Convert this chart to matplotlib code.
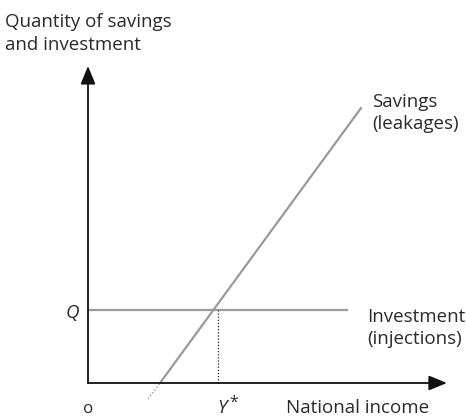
import matplotlib

matplotlib.use("Agg", force=True)
import matplotlib.pyplot as plt

# economic diagram in arbitrary units (origin at 0, 0)
savings_x = [2.0, 7.6]
savings_y = [0.0, 8.7]
savings_ext_x = [1.67, 2.0]
savings_ext_y = [-0.5, 0.0]
invest_q = 2.3
invest_x = [0.0, 7.22]
y_star = 3.6
x_axis_end = 9.97
y_axis_end = 10.0

plt.rcParams["font.family"] = ["Open Sans", "DejaVu Sans"]

fig = plt.figure(figsize=(4.66, 4.16), dpi=100)
ax = fig.add_axes([0, 0, 1, 1])
ax.set_xlim(-88 / 36, 378 / 36)
ax.set_ylim(-33 / 31.7, 383 / 31.7)
ax.axis("off")

grey = "#9a9a9a"
txt = "#2a2a2a"

# axes with arrowheads
for end in [(x_axis_end, 0), (0, y_axis_end)]:
    ax.annotate("", xy=end, xytext=(0, 0),
                arrowprops=dict(arrowstyle="-|>,head_length=1.1,head_width=0.45",
                                color="#111111", lw=1.3, shrinkA=0, shrinkB=0))

# savings schedule and its dotted extension below the axis
ax.plot(savings_x, savings_y, color=grey, lw=1.6, solid_capstyle="butt")
ax.plot(savings_ext_x, savings_ext_y, color=grey, lw=1.0, ls=(0, (1, 1.5)))

# investment schedule
ax.plot(invest_x, [invest_q, invest_q], color=grey, lw=1.6, solid_capstyle="butt")

# equilibrium drop line
ax.plot([y_star, y_star], [0, invest_q], color="#222222", lw=0.9, ls=(0, (1, 1.5)))

fs = 13.5
kw = dict(fontsize=fs, color=txt, va="baseline")
ax.text(-2.31, 11.23, "Quantity of savings", ha="left", **kw)
ax.text(-2.31, 10.50, "and investment", ha="left", **kw)
ax.text(7.89, 8.71, "Savings", ha="left", **kw)
ax.text(7.89, 8.01, "(leakages)", ha="left", **kw)
ax.text(7.75, 1.92, "Investment", ha="left", **kw)
ax.text(7.75, 1.23, "(injections)", ha="left", **kw)
ax.text(-0.44, 2.05, "Q", ha="center", style="italic", **kw)
ax.text(3.86, -0.95, "Y", ha="right", style="italic", **kw)
ax.text(3.92, -0.74, "*", ha="left", fontsize=fs * 0.85, color=txt, va="baseline")
ax.text(0, -0.95, "o", ha="center", fontsize=fs * 0.9, color=txt, va="baseline")
ax.text(7.5, -0.95, "National income", ha="center", **kw)

fig.savefig("out.png", dpi=100)
plt.close(fig)
